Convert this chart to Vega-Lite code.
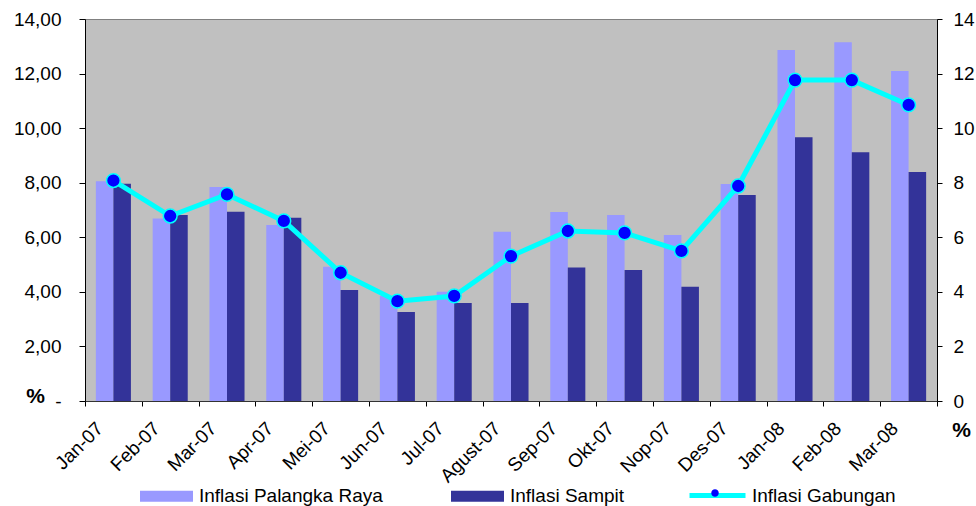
{
  "$schema": "https://vega.github.io/schema/vega-lite/v6.json",
  "width": 852,
  "height": 382,
  "autosize": {"type": "none"},
  "padding": {"left": 85, "top": 19, "right": 39, "bottom": 105},
  "background": "white",
  "config": {
    "view": {"fill": "#C0C0C0", "stroke": "#808080", "strokeWidth": 1},
    "font": "Liberation Sans",
    "axis": {
      "labelFont": "Liberation Sans",
      "labelColor": "#000",
      "labelFontSize": 19,
      "domainColor": "#000",
      "tickColor": "#000",
      "grid": false,
      "titleFont": "Liberation Sans",
      "titleColor": "#000"
    },
    "legend": {
      "labelFont": "Liberation Sans",
      "labelFontSize": 19,
      "labelColor": "#000",
      "labelLimit": 0,
      "padding": 0
    }
  },
  "data": {
    "values": [
      {"bulan": "Jan-07", "series": "Inflasi Palangka Raya", "nilai": 8.05},
      {"bulan": "Jan-07", "series": "Inflasi Sampit", "nilai": 7.96},
      {"bulan": "Jan-07", "series": "Inflasi Gabungan", "nilai": 8.08},
      {"bulan": "Feb-07", "series": "Inflasi Palangka Raya", "nilai": 6.69},
      {"bulan": "Feb-07", "series": "Inflasi Sampit", "nilai": 6.82},
      {"bulan": "Feb-07", "series": "Inflasi Gabungan", "nilai": 6.78},
      {"bulan": "Mar-07", "series": "Inflasi Palangka Raya", "nilai": 7.84},
      {"bulan": "Mar-07", "series": "Inflasi Sampit", "nilai": 6.94},
      {"bulan": "Mar-07", "series": "Inflasi Gabungan", "nilai": 7.57},
      {"bulan": "Apr-07", "series": "Inflasi Palangka Raya", "nilai": 6.45},
      {"bulan": "Apr-07", "series": "Inflasi Sampit", "nilai": 6.72},
      {"bulan": "Apr-07", "series": "Inflasi Gabungan", "nilai": 6.6},
      {"bulan": "Mei-07", "series": "Inflasi Palangka Raya", "nilai": 4.92},
      {"bulan": "Mei-07", "series": "Inflasi Sampit", "nilai": 4.07},
      {"bulan": "Mei-07", "series": "Inflasi Gabungan", "nilai": 4.7},
      {"bulan": "Jun-07", "series": "Inflasi Palangka Raya", "nilai": 3.85},
      {"bulan": "Jun-07", "series": "Inflasi Sampit", "nilai": 3.26},
      {"bulan": "Jun-07", "series": "Inflasi Gabungan", "nilai": 3.66},
      {"bulan": "Jul-07", "series": "Inflasi Palangka Raya", "nilai": 4.0},
      {"bulan": "Jul-07", "series": "Inflasi Sampit", "nilai": 3.59},
      {"bulan": "Jul-07", "series": "Inflasi Gabungan", "nilai": 3.85},
      {"bulan": "Agust-07", "series": "Inflasi Palangka Raya", "nilai": 6.2},
      {"bulan": "Agust-07", "series": "Inflasi Sampit", "nilai": 3.59},
      {"bulan": "Agust-07", "series": "Inflasi Gabungan", "nilai": 5.31},
      {"bulan": "Sep-07", "series": "Inflasi Palangka Raya", "nilai": 6.93},
      {"bulan": "Sep-07", "series": "Inflasi Sampit", "nilai": 4.89},
      {"bulan": "Sep-07", "series": "Inflasi Gabungan", "nilai": 6.23},
      {"bulan": "Okt-07", "series": "Inflasi Palangka Raya", "nilai": 6.82},
      {"bulan": "Okt-07", "series": "Inflasi Sampit", "nilai": 4.8},
      {"bulan": "Okt-07", "series": "Inflasi Gabungan", "nilai": 6.16},
      {"bulan": "Nop-07", "series": "Inflasi Palangka Raya", "nilai": 6.08},
      {"bulan": "Nop-07", "series": "Inflasi Sampit", "nilai": 4.19},
      {"bulan": "Nop-07", "series": "Inflasi Gabungan", "nilai": 5.5},
      {"bulan": "Des-07", "series": "Inflasi Palangka Raya", "nilai": 7.95},
      {"bulan": "Des-07", "series": "Inflasi Sampit", "nilai": 7.55},
      {"bulan": "Des-07", "series": "Inflasi Gabungan", "nilai": 7.88},
      {"bulan": "Jan-08", "series": "Inflasi Palangka Raya", "nilai": 12.86},
      {"bulan": "Jan-08", "series": "Inflasi Sampit", "nilai": 9.67},
      {"bulan": "Jan-08", "series": "Inflasi Gabungan", "nilai": 11.76},
      {"bulan": "Feb-08", "series": "Inflasi Palangka Raya", "nilai": 13.15},
      {"bulan": "Feb-08", "series": "Inflasi Sampit", "nilai": 9.12},
      {"bulan": "Feb-08", "series": "Inflasi Gabungan", "nilai": 11.76},
      {"bulan": "Mar-08", "series": "Inflasi Palangka Raya", "nilai": 12.09},
      {"bulan": "Mar-08", "series": "Inflasi Sampit", "nilai": 8.39},
      {"bulan": "Mar-08", "series": "Inflasi Gabungan", "nilai": 10.85}
    ]
  },
  "layer": [
    {
      "transform": [{"filter": "datum.series !== 'Inflasi Gabungan'"}],
      "mark": {"type": "bar"},
      "encoding": {
        "x": {
          "field": "bulan",
          "type": "nominal",
          "sort": null,
          "scale": {"paddingInner": 0, "paddingOuter": 0},
          "axis": {
            "title": null,
            "labelAngle": -45,
            "labelAlign": "right",
            "labelBaseline": "middle",
            "tickBand": "extent",
            "labelOffset": -14,
            "tickSize": 5,
            "labelPadding": 19,
            "domainColor": "#333333"
          }
        },
        "xOffset": {
          "field": "series",
          "sort": ["Inflasi Palangka Raya", "Inflasi Sampit"],
          "scale": {"paddingInner": 0, "paddingOuter": 0.62}
        },
        "y": {
          "field": "nilai",
          "type": "quantitative",
          "scale": {"domain": [0, 14], "nice": false},
          "axis": {
            "values": [0, 2, 4, 6, 8, 10, 12, 14],
            "labelExpr": "datum.value === 0 ? '-' : replace(format(datum.value, '.2f'), '.', ',')",
            "tickSize": 6,
            "labelPadding": 18,
            "title": "%",
            "titleAngle": 0,
            "titleX": -50,
            "titleY": 377,
            "titleAlign": "center",
            "titleBaseline": "middle",
            "titleFontSize": 21,
            "titleFontWeight": "bold"
          }
        },
        "fill": {
          "field": "series",
          "type": "nominal",
          "scale": {
            "domain": ["Inflasi Palangka Raya", "Inflasi Sampit"],
            "range": ["#9999FF", "#333399"]
          },
          "legend": {
            "title": null,
            "orient": "none",
            "legendX": 55,
            "legendY": 450.5,
            "direction": "horizontal",
            "symbolType": "M-1,-0.2075H1V0.2075H-1Z",
            "symbolSize": 2809,
            "symbolStrokeWidth": 0,
            "labelOffset": 6,
            "columnPadding": 68
          }
        }
      }
    },
    {
      "transform": [{"filter": "datum.series === 'Inflasi Gabungan'"}],
      "layer": [
        {
          "mark": {"type": "line", "strokeWidth": 5},
          "encoding": {
            "x": {"field": "bulan", "type": "nominal", "sort": null},
            "y": {
              "field": "nilai",
              "type": "quantitative",
              "scale": {"domain": [0, 14], "nice": false},
              "axis": {
                "orient": "right",
                "values": [0, 2, 4, 6, 8, 10, 12, 14],
                "format": "d",
                "tickSize": 5,
                "labelPadding": 11,
                "title": "%",
                "titleAngle": 0,
                "titleX": 24,
                "titleY": 411,
                "titleAlign": "center",
                "titleBaseline": "middle",
                "titleFontSize": 21,
                "titleFontWeight": "bold"
              }
            },
            "stroke": {
              "field": "series",
              "type": "nominal",
              "scale": {"range": ["#00FFFF"]},
              "legend": {
                "title": null,
                "orient": "none",
                "legendX": 602,
                "legendY": 446,
                "direction": "horizontal",
                "symbolType": "M-1,0H1",
                "symbolSize": 3136,
                "symbolStrokeWidth": 5,
                "labelOffset": 4
              }
            }
          }
        },
        {
          "mark": {"type": "point", "filled": true, "size": 190, "stroke": "#00FFFF", "strokeWidth": 1.5, "opacity": 1},
          "encoding": {
            "x": {"field": "bulan", "type": "nominal", "sort": null},
            "y": {
              "field": "nilai",
              "type": "quantitative",
              "scale": {"domain": [0, 14], "nice": false},
              "axis": {
                "orient": "right",
                "values": [0, 2, 4, 6, 8, 10, 12, 14],
                "format": "d",
                "tickSize": 5,
                "labelPadding": 11,
                "title": "%",
                "titleAngle": 0,
                "titleX": 24,
                "titleY": 411,
                "titleAlign": "center",
                "titleBaseline": "middle",
                "titleFontSize": 21,
                "titleFontWeight": "bold"
              }
            },
            "color": {
              "field": "series",
              "type": "nominal",
              "scale": {"range": ["#0000FF"]},
              "legend": {
                "title": null,
                "orient": "none",
                "legendX": 602,
                "legendY": 446,
                "direction": "horizontal",
                "symbolType": "M0.134,0A0.134,0.134,0,1,1,-0.134,0A0.134,0.134,0,1,1,0.134,0Z",
                "symbolSize": 3136,
                "symbolStrokeWidth": 0,
                "labelOffset": 4,
                "labelExpr": "''"
              }
            }
          }
        }
      ]
    }
  ],
  "resolve": {"scale": {"y": "independent"}}
}
